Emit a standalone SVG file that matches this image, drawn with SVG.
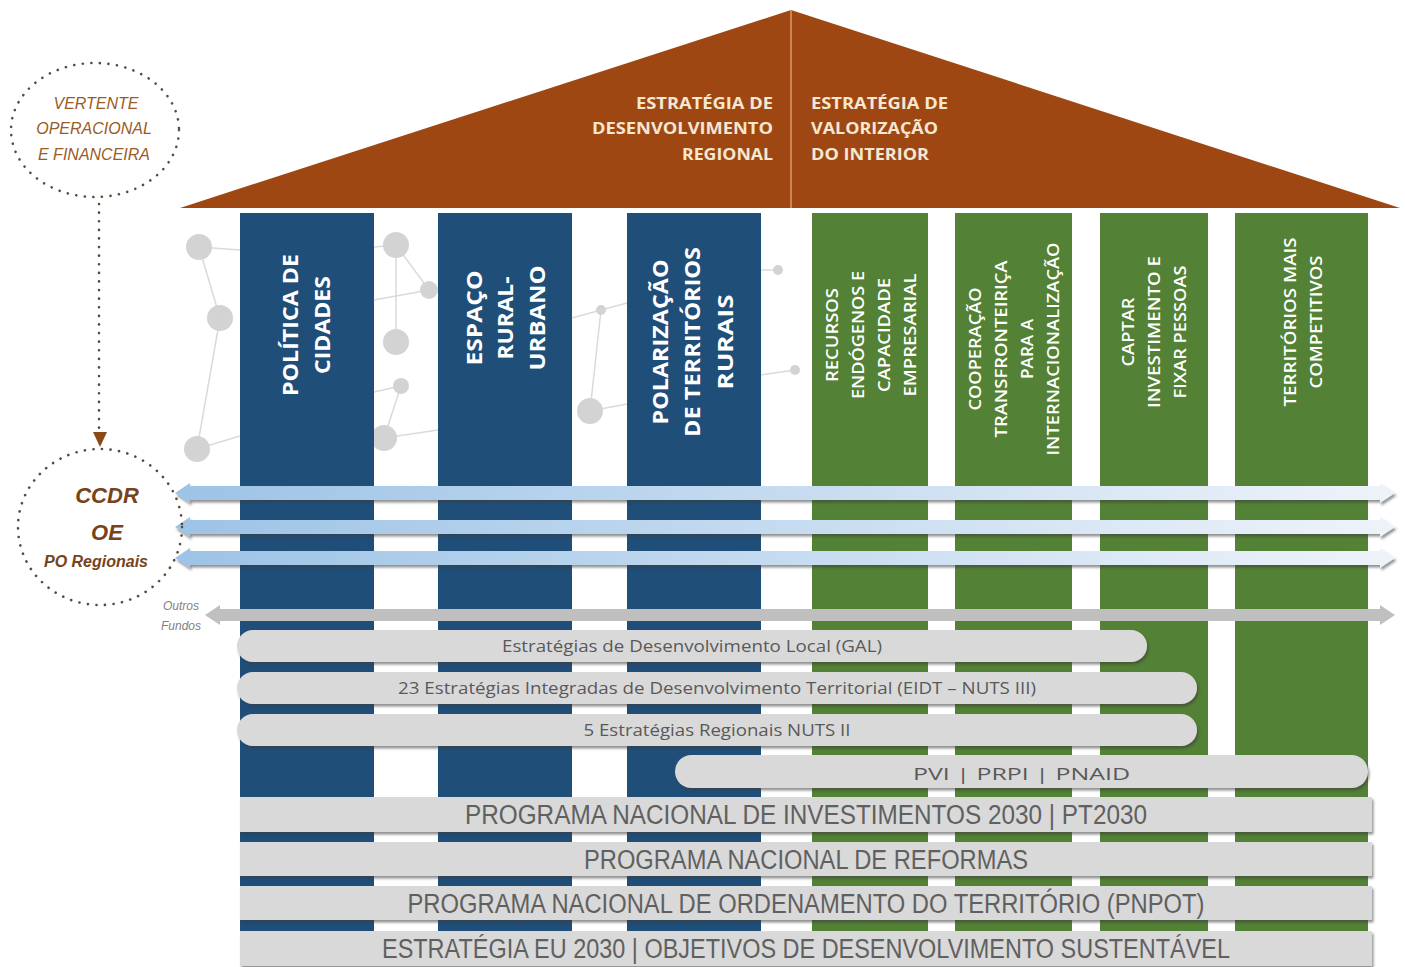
<svg xmlns="http://www.w3.org/2000/svg" width="1405" height="967" viewBox="0 0 1405 967">
<defs>
<linearGradient id="gb" x1="0" y1="0" x2="1" y2="0">
<stop offset="0" stop-color="#9dc3e6"/>
<stop offset="1" stop-color="#eef3fa"/>
</linearGradient>
<filter id="sh" x="-5%" y="-50%" width="110%" height="200%">
<feDropShadow dx="1.5" dy="2.5" stdDeviation="1.2" flood-color="#3a3a3a" flood-opacity="0.55"/>
</filter>
<style>
.blue{fill:#1f4e79}
.green{fill:#538135}
.ct{font-family:"Open Sans","Liberation Sans",sans-serif;fill:#ffffff;text-anchor:middle}
.cb{font-size:22px;font-weight:700}
.cg{font-size:17px;font-weight:600}
.rt{font-family:"Open Sans","Liberation Sans",sans-serif;font-size:16px;font-weight:700;fill:#f6e7d2}
.pill{fill:#d9d9d9}
.pt{font-family:"Open Sans","Liberation Sans",sans-serif;font-size:16px;fill:#595959;text-anchor:middle}
.bt{font-family:"Liberation Sans Narrow","Liberation Sans",Arial,sans-serif;font-size:27px;fill:#606060;text-anchor:middle}
.dot{fill:none;stroke:#5a4a3a;stroke-width:2.6;stroke-linecap:round;stroke-dasharray:0.1 8.5}
.lt{font-family:"Liberation Sans",Arial,sans-serif;font-style:italic;fill:#9a5b26;text-anchor:middle}
.ld{font-family:"Liberation Sans",Arial,sans-serif;font-style:italic;font-weight:700;fill:#76431a;text-anchor:middle}
.net line{stroke:#dadada;stroke-width:1.5}
.net circle{fill:#d3d3d3}
</style>
</defs>
<rect width="1405" height="967" fill="#ffffff"/>

<g id="network" class="net">
<line x1="199" y1="247" x2="240" y2="250"/>
<line x1="199" y1="247" x2="220" y2="318"/>
<line x1="220" y1="318" x2="197" y2="449"/>
<line x1="197" y1="449" x2="240" y2="436"/>
<line x1="374" y1="247" x2="396" y2="245"/>
<line x1="396" y1="245" x2="429" y2="290"/>
<line x1="374" y1="300" x2="429" y2="290"/>
<line x1="429" y1="290" x2="438" y2="289"/>
<line x1="396" y1="245" x2="396" y2="342"/>
<line x1="384" y1="438" x2="401" y2="386"/>
<line x1="374" y1="392" x2="401" y2="386"/>
<line x1="384" y1="438" x2="438" y2="430"/>
<line x1="572" y1="318" x2="601" y2="310"/>
<line x1="601" y1="310" x2="627" y2="303"/>
<line x1="601" y1="310" x2="590" y2="411"/>
<line x1="590" y1="411" x2="627" y2="404"/>
<line x1="761" y1="270" x2="778" y2="270"/>
<line x1="761" y1="375" x2="795" y2="370"/>
<circle cx="199" cy="247" r="13"/>
<circle cx="220" cy="318" r="13"/>
<circle cx="197" cy="449" r="13"/>
<circle cx="396" cy="245" r="13"/>
<circle cx="429" cy="290" r="9"/>
<circle cx="396" cy="342" r="13"/>
<circle cx="401" cy="386" r="8"/>
<circle cx="384" cy="438" r="13"/>
<circle cx="601" cy="310" r="5"/>
<circle cx="590" cy="411" r="13"/>
<circle cx="778" cy="270" r="5"/>
<circle cx="795" cy="370" r="5"/>
</g>

<g id="roof">
<polygon points="180,208 791,10 1400,208" fill="#9e4712"/>
<line x1="791" y1="10" x2="791" y2="208" stroke="#d99a6a" stroke-width="1.5"/>
<g text-anchor="end">
<text class="rt" x="773" y="109" textLength="137" lengthAdjust="spacingAndGlyphs">ESTRATÉGIA DE</text>
<text class="rt" x="773" y="134" textLength="181" lengthAdjust="spacingAndGlyphs">DESENVOLVIMENTO</text>
<text class="rt" x="773" y="160" textLength="91" lengthAdjust="spacingAndGlyphs">REGIONAL</text>
</g>
<text class="rt" x="811" y="109" textLength="137" lengthAdjust="spacingAndGlyphs">ESTRATÉGIA DE</text>
<text class="rt" x="811" y="134" textLength="127" lengthAdjust="spacingAndGlyphs">VALORIZAÇÃO</text>
<text class="rt" x="811" y="160" textLength="118" lengthAdjust="spacingAndGlyphs">DO INTERIOR</text>
</g>

<g id="col-politica-cidades">
<rect class="blue" x="240" y="213" width="134" height="753"/>
<text class="ct cb" transform="translate(290,325) rotate(-90)" dy="0.36em" textLength="142" lengthAdjust="spacingAndGlyphs">POLÍTICA DE</text>
<text class="ct cb" transform="translate(322,325) rotate(-90)" dy="0.36em" textLength="98" lengthAdjust="spacingAndGlyphs">CIDADES</text>
</g>
<g id="col-espaco-rural-urbano">
<rect class="blue" x="438" y="213" width="134" height="753"/>
<text class="ct cb" transform="translate(474,318) rotate(-90)" dy="0.36em" textLength="95" lengthAdjust="spacingAndGlyphs">ESPAÇO</text>
<text class="ct cb" transform="translate(505,318) rotate(-90)" dy="0.36em" textLength="83" lengthAdjust="spacingAndGlyphs">RURAL-</text>
<text class="ct cb" transform="translate(537,318) rotate(-90)" dy="0.36em" textLength="105" lengthAdjust="spacingAndGlyphs">URBANO</text>
</g>
<g id="col-polarizacao">
<rect class="blue" x="627" y="213" width="134" height="753"/>
<text class="ct cb" transform="translate(660,342) rotate(-90)" dy="0.36em" textLength="165" lengthAdjust="spacingAndGlyphs">POLARIZAÇÃO</text>
<text class="ct cb" transform="translate(692,342) rotate(-90)" dy="0.36em" textLength="190" lengthAdjust="spacingAndGlyphs">DE TERRITÓRIOS</text>
<text class="ct cb" transform="translate(725,342) rotate(-90)" dy="0.36em" textLength="95" lengthAdjust="spacingAndGlyphs">RURAIS</text>
</g>
<g id="col-recursos">
<rect class="green" x="812" y="213" width="116" height="753"/>
<text class="ct cg" transform="translate(832,335) rotate(-90)" dy="0.36em" textLength="94" lengthAdjust="spacingAndGlyphs">RECURSOS</text>
<text class="ct cg" transform="translate(858,335) rotate(-90)" dy="0.36em" textLength="128" lengthAdjust="spacingAndGlyphs">ENDÓGENOS E</text>
<text class="ct cg" transform="translate(884,335) rotate(-90)" dy="0.36em" textLength="114" lengthAdjust="spacingAndGlyphs">CAPACIDADE</text>
<text class="ct cg" transform="translate(910,335) rotate(-90)" dy="0.36em" textLength="123" lengthAdjust="spacingAndGlyphs">EMPRESARIAL</text>
</g>
<g id="col-cooperacao">
<rect class="green" x="955" y="213" width="117" height="753"/>
<text class="ct cg" transform="translate(975,349) rotate(-90)" dy="0.36em" textLength="123" lengthAdjust="spacingAndGlyphs">COOPERAÇÃO</text>
<text class="ct cg" transform="translate(1001,349) rotate(-90)" dy="0.36em" textLength="177" lengthAdjust="spacingAndGlyphs">TRANSFRONTEIRIÇA</text>
<text class="ct cg" transform="translate(1027,349) rotate(-90)" dy="0.36em" textLength="60" lengthAdjust="spacingAndGlyphs">PARA A</text>
<text class="ct cg" transform="translate(1053,349) rotate(-90)" dy="0.36em" textLength="213" lengthAdjust="spacingAndGlyphs">INTERNACIONALIZAÇÃO</text>
</g>
<g id="col-captar">
<rect class="green" x="1100" y="213" width="108" height="753"/>
<text class="ct cg" transform="translate(1128,332) rotate(-90)" dy="0.36em" textLength="69" lengthAdjust="spacingAndGlyphs">CAPTAR</text>
<text class="ct cg" transform="translate(1154,332) rotate(-90)" dy="0.36em" textLength="152" lengthAdjust="spacingAndGlyphs">INVESTIMENTO E</text>
<text class="ct cg" transform="translate(1180,332) rotate(-90)" dy="0.36em" textLength="133" lengthAdjust="spacingAndGlyphs">FIXAR PESSOAS</text>
</g>
<g id="col-territorios">
<rect class="green" x="1235" y="213" width="133" height="753"/>
<text class="ct cg" transform="translate(1290,322) rotate(-90)" dy="0.36em" textLength="169" lengthAdjust="spacingAndGlyphs">TERRITÓRIOS MAIS</text>
<text class="ct cg" transform="translate(1316,322) rotate(-90)" dy="0.36em" textLength="133" lengthAdjust="spacingAndGlyphs">COMPETITIVOS</text>
</g>

<g id="connectors">
<polygon filter="url(#sh)" fill="url(#gb)" points="175,493 190,483 190,486 1380,486 1380,483 1395,493 1380,503 1380,500 190,500 190,503"/>
<polygon filter="url(#sh)" fill="url(#gb)" points="175,527 190,517 190,520 1380,520 1380,517 1395,527 1380,537 1380,534 190,534 190,537"/>
<polygon filter="url(#sh)" fill="url(#gb)" points="175,558 190,548 190,551 1380,551 1380,548 1395,558 1380,568 1380,565 190,565 190,568"/>
<polygon fill="#bfbfbf" points="205,615 220,605 220,609 1380,609 1380,605 1395,615 1380,625 1380,621 220,621 220,625"/>
<line class="dot" x1="99" y1="204" x2="99" y2="428"/>
<polygon points="93,432 107,432 100,447" fill="#8a4a14"/>
</g>

<g id="vertente">
<ellipse class="dot" cx="95" cy="130" rx="84" ry="67"/>
<text class="lt" x="96" y="109" font-size="16">VERTENTE</text>
<text class="lt" x="94" y="134" font-size="16">OPERACIONAL</text>
<text class="lt" x="94" y="160" font-size="16">E FINANCEIRA</text>
</g>

<g id="ccdr">
<ellipse class="dot" cx="100" cy="527" rx="82" ry="78"/>
<text class="ld" x="107" y="503" font-size="22">CCDR</text>
<text class="ld" x="107" y="540" font-size="22">OE</text>
<text class="ld" x="96" y="567" font-size="16">PO Regionais</text>
</g>

<g id="outros-fundos">
<text x="181" y="610" font-family="Liberation Sans,Arial,sans-serif" font-size="12" font-style="italic" fill="#7f7f7f" text-anchor="middle">Outros</text>
<text x="181" y="630" font-family="Liberation Sans,Arial,sans-serif" font-size="12" font-style="italic" fill="#7f7f7f" text-anchor="middle">Fundos</text>
</g>

<g id="gal">
<rect class="pill" filter="url(#sh)" x="237" y="630" width="910" height="32" rx="16"/>
<text class="pt" x="692" y="651.5" textLength="380" lengthAdjust="spacingAndGlyphs">Estratégias de Desenvolvimento Local (GAL)</text>
</g>
<g id="eidt">
<rect class="pill" filter="url(#sh)" x="237" y="672" width="960" height="32" rx="16"/>
<text class="pt" x="717" y="693.5" textLength="638" lengthAdjust="spacingAndGlyphs">23 Estratégias Integradas de Desenvolvimento Territorial (EIDT – NUTS III)</text>
</g>
<g id="nuts2">
<rect class="pill" filter="url(#sh)" x="237" y="714" width="960" height="32" rx="16"/>
<text class="pt" x="717" y="735.5" textLength="267" lengthAdjust="spacingAndGlyphs">5 Estratégias Regionais NUTS II</text>
</g>
<g id="pvi">
<rect class="pill" filter="url(#sh)" x="675" y="755" width="693" height="33" rx="16.5"/>
<text class="pt" x="1021.5" y="779.5" font-size="24" textLength="217" lengthAdjust="spacingAndGlyphs">PVI | PRPI | PNAID</text>
</g>
<g id="pni2030">
<rect class="pill" filter="url(#sh)" x="240" y="797" width="1132" height="35"/>
<text class="bt" x="806" y="824" textLength="682" lengthAdjust="spacingAndGlyphs">PROGRAMA NACIONAL DE INVESTIMENTOS 2030 | PT2030</text>
</g>
<g id="pnr">
<rect class="pill" filter="url(#sh)" x="240" y="842" width="1132" height="34"/>
<text class="bt" x="806" y="868.5" textLength="444" lengthAdjust="spacingAndGlyphs">PROGRAMA NACIONAL DE REFORMAS</text>
</g>
<g id="pnpot">
<rect class="pill" filter="url(#sh)" x="240" y="886" width="1132" height="34"/>
<text class="bt" x="806" y="912.5" textLength="797" lengthAdjust="spacingAndGlyphs">PROGRAMA NACIONAL DE ORDENAMENTO DO TERRITÓRIO (PNPOT)</text>
</g>
<g id="eu2030">
<rect class="pill" filter="url(#sh)" x="240" y="931" width="1132" height="35"/>
<text class="bt" x="806" y="958" textLength="848" lengthAdjust="spacingAndGlyphs">ESTRATÉGIA EU 2030 | OBJETIVOS DE DESENVOLVIMENTO SUSTENTÁVEL</text>
</g>
</svg>
